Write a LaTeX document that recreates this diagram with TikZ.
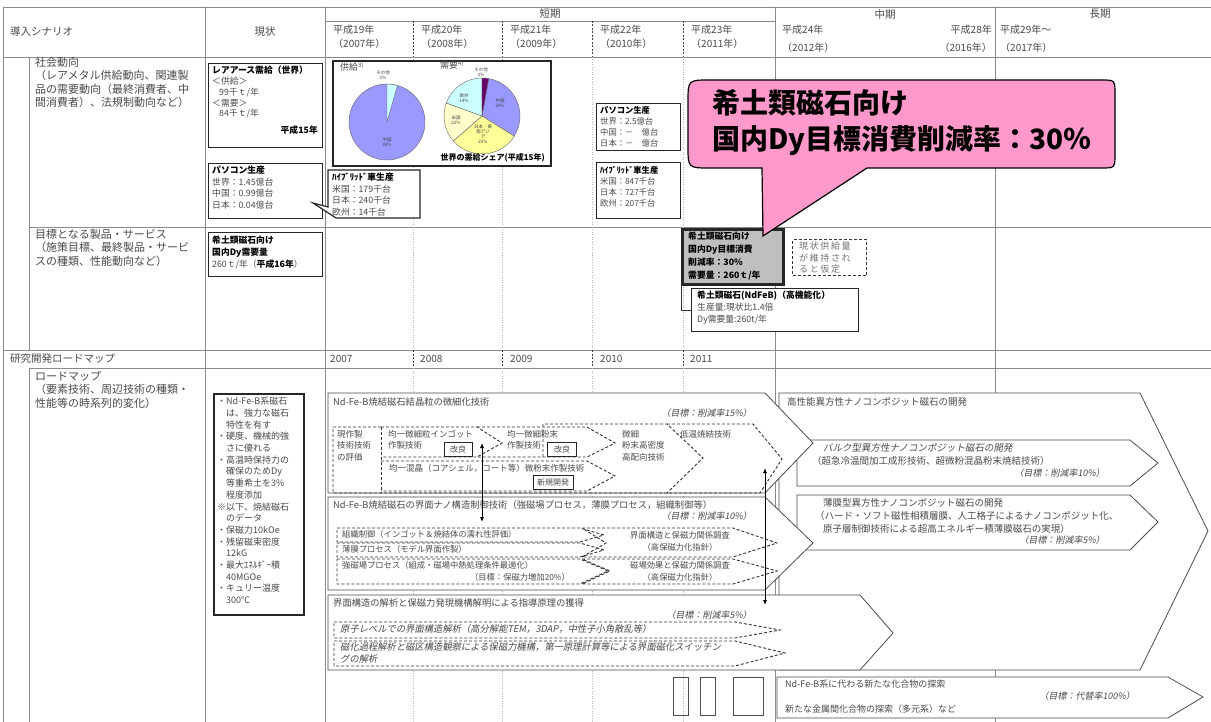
\documentclass[tikz,border=0pt]{standalone}
\usepackage{fontspec}
\setmainfont{Noto Sans CJK JP}[ItalicFont={Noto Sans CJK JP},ItalicFeatures={FakeSlant=0.18}]
\usetikzlibrary{arrows.meta}
\definecolor{gridc}{HTML}{8A8A8A}
\definecolor{txt}{HTML}{4A4A4A}
\definecolor{pinkc}{HTML}{FF99CC}
\definecolor{grayfill}{HTML}{BFBFBF}
\definecolor{pieblue}{HTML}{9999FF}
\definecolor{piecyan}{HTML}{CCFFFF}
\definecolor{pieyel}{HTML}{FFFF99}
\definecolor{pieyellt}{HTML}{FFFFCC}
\definecolor{piepur}{HTML}{660066}
\tikzset{
  fs/.style 2 args={font=\fontsize{#1}{#2}\selectfont},
  gridline/.style={draw=gridc,line width=0.8pt},
  dotline/.style={draw=gridc!60,line width=0.6pt,dash pattern=on 1pt off 1.5pt},
  hdash/.style={draw=black!75,line width=0.9pt,dash pattern=on 2pt off 1.5pt},
  lbl/.style={inner sep=0pt,anchor=north west,align=left,text=txt},
  rlbl/.style={inner sep=0pt,anchor=north east,align=right,text=txt},
  clbl/.style={inner sep=0pt,anchor=north,align=center,text=txt},
  frame/.style={draw=black!85,line width=1.4pt,fill=white,inner sep=0pt,anchor=north west},
  chev/.style={draw=black!70,line width=0.8pt,fill=white},
  dsh/.style={draw=black!80,line width=0.9pt,dash pattern=on 3pt off 2pt},
  tagbox/.style={draw=black!85,line width=1pt,inner sep=1.5pt,text=txt,fs={8}{9},minimum height=14pt},
  arr/.style={draw=black,line width=0.8pt,{Latex[length=5pt,width=4pt]}-{Latex[length=5pt,width=4pt]}},
  pielbl/.style={inner sep=0pt,align=center,text=black!75,fs={4.5}{5}},
  wedge/.style={draw=black!60,line width=0.4pt},
}
\begin{document}
\begin{tikzpicture}[x=1pt,y=-1pt]
\useasboundingbox (0,0) rectangle (1211,722);
\fill[white] (0,0) rectangle (1211,722);

% ---------- grid ----------
\draw[gridline] (3,7) -- (1211,7);
\draw[gridline] (3,7) -- (3,722);
\draw[gridline] (205,7) -- (205,722);
\draw[gridline] (325,7) -- (325,722);
\draw[gridline] (775,7) -- (775,722);
\draw[gridline] (995,7) -- (995,722);
\draw[gridline] (325,21) -- (775,21);
\draw[gridline] (3,57) -- (1211,57);
\draw[gridline] (29,57) -- (29,350);
\draw[gridline] (29,227) -- (1211,227);
\draw[gridline] (3,350) -- (1211,350);
\draw[gridline] (29,368) -- (1211,368);
\draw[gridline] (29,368) -- (29,722);
\foreach \xx in {413,502,592,683}{
  \draw[hdash] (\xx,21) -- (\xx,57);
  \draw[dotline] (\xx,57) -- (\xx,350);
  \draw[hdash] (\xx,350) -- (\xx,368);
  \draw[dotline] (\xx,368) -- (\xx,722);
}

% ---------- header ----------
\node[lbl,fs={10.5}{14}] (hScen) at (10,26) {導入シナリオ};
\node[clbl,fs={10.5}{14}] (hNow) at (265,26) {現状};
\node[clbl,fs={10.5}{14}] (hShort) at (550,9) {短期};
\node[lbl,fs={10}{14}] (h19) at (333,25) {平成19年\\（2007年）};
\node[lbl,fs={10}{14}] (h20) at (421,25) {平成20年\\（2008年）};
\node[lbl,fs={10}{14}] (h21) at (510,25) {平成21年\\（2009年）};
\node[lbl,fs={10}{14}] (h22) at (600,25) {平成22年\\（2010年）};
\node[lbl,fs={10}{14}] (h23) at (691,25) {平成23年\\（2011年）};
\node[clbl,fs={10.5}{14}] (hMid) at (885,9) {中期};
\node[lbl,fs={10}{14}] (h24) at (782,25) {平成24年};
\node[lbl,fs={10}{14}] (h24b) at (782,43) {（2012年）};
\node[rlbl,fs={10}{14}] (h28) at (992,25) {平成28年};
\node[rlbl,fs={10}{14}] (h28b) at (992,43) {（2016年）};
\node[clbl,fs={10.5}{14}] (hLong) at (1100,9) {長期};
\node[lbl,fs={10}{14}] (h29) at (1000,25) {平成29年～};
\node[lbl,fs={10}{14}] (h29b) at (1000,43) {（2017年）};

% ---------- left column ----------
\node[lbl,fs={11}{13.5}] (soc) at (35,57) {社会動向\\（レアメタル供給動向、関連製\\品の需要動向（最終消費者、中\\間消費者）、法規制動向など）};
\node[lbl,fs={11}{13.5}] (tgt) at (35,229) {目標となる製品・サービス\\（施策目標、最終製品・サービ\\スの種類、性能動向など）};
\node[lbl,fs={10.5}{13}] (rdm) at (10,353) {研究開発ロードマップ};
\node[lbl,fs={11}{13.5}] (rdm2) at (35,371) {ロードマップ\\（要素技術、周辺技術の種類・\\性能等の時系列的変化）};
\foreach \xx/\yy in {330/2007,420/2008,510/2009,600/2010,690/2011}{
  \node[lbl,fs={10}{12}] (yr\yy) at (\xx,355) {\yy};
}

% ---------- current-status boxes ----------
\node[frame,minimum width=114pt,minimum height=84pt] (bA) at (208,63) {};
\node[lbl,fs={8.8}{10.8}] (bAt) at (212,66) {{\bfseries\color{black}レアアース需給（世界）}\\＜供給＞\\\hspace{0.8em}99千ｔ/年\\＜需要＞\\\hspace{0.8em}84千ｔ/年};
\node[rlbl,fs={8.8}{10.8}] (bAy) at (318,126) {\bfseries\color{black}平成15年};

\node[frame,minimum width=114pt,minimum height=55pt] (bB) at (208,163) {};
\node[lbl,fs={8.8}{11.5}] (bBt) at (212,166) {{\bfseries\color{black}パソコン生産}\\世界：1.45億台\\中国：0.99億台\\日本：0.04億台};

\node[frame,minimum width=114pt,minimum height=44pt] (bC) at (208,232) {};
\node[lbl,fs={8.8}{12}] (bCt) at (212,236) {{\bfseries\color{black}希土類磁石向け}\\{\bfseries\color{black}国内Dy需要量}\\260ｔ/年（{\bfseries\color{black}平成16年}）};

% hybrid box with pointer
\draw[draw=black!85,line width=1.2pt,fill=white] (328,170) -- (420,170) -- (420,218) -- (336,218) -- (313,203) -- (328,207) -- cycle;
\node[lbl,fs={8.8}{11.5}] (hyb1) at (332,173) {{\bfseries\color{black}ﾊｲﾌﾞﾘｯﾄﾞ車生産}\\米国：179千台\\日本：240千台\\欧州：14千台};

% pie chart box
\node[frame,line width=1.8pt,minimum width=218pt,minimum height=105pt] (pieBox) at (332,60) {};
\node[lbl,fs={9}{10}] (supL) at (340,62) {供給\textsuperscript{3)}};
\node[lbl,fs={9}{10}] (demL) at (440,60) {需要\textsuperscript{4)}};
\begin{scope}[shift={(387,122)},yscale=-1]
  \filldraw[wedge,fill=pieblue] (0,0) circle[radius=38];
  \filldraw[wedge,fill=piecyan] (0,0) -- (74:38) arc[start angle=74,end angle=90,radius=38] -- cycle;
\end{scope}
\begin{scope}[shift={(482,116)},yscale=-1]
  \filldraw[wedge,fill=pieblue] (0,0) -- (-32:38) arc[start angle=-32,end angle=80,radius=38] -- cycle;
  \filldraw[wedge,fill=pieyel] (0,0) -- (-139:38) arc[start angle=-139,end angle=-32,radius=38] -- cycle;
  \filldraw[wedge,fill=pieyellt] (0,0) -- (160:38) arc[start angle=160,end angle=221,radius=38] -- cycle;
  \filldraw[wedge,fill=piecyan] (0,0) -- (90:38) arc[start angle=90,end angle=160,radius=38] -- cycle;
  \filldraw[wedge,fill=piepur] (0,0) -- (80:38) arc[start angle=80,end angle=90,radius=38] -- cycle;
\end{scope}
\node[pielbl] (p1a) at (387,142) {中国\\95\%};
\node[pielbl] (p1b) at (383,75) {その他\\5\%};
\node[pielbl] (p2a) at (500,103) {中国\\33\%};
\node[pielbl] (p2b) at (464,98) {欧州\\14\%};
\node[pielbl] (p2c) at (456,120) {米国\\22\%};
\node[pielbl] (p2d) at (483,134) {日本・東\\南アジ\\ア\\25\%};
\node[pielbl] (p2e) at (481,72) {その他\\3\%};
\node[inner sep=0pt,anchor=south east,fs={8}{9}] (pieCap) at (545,162) {\bfseries 世界の需給シェア(平成15年)};

% 2010 boxes
\node[frame,line width=1.2pt,minimum width=84pt,minimum height=47pt] (pc2) at (596,103) {};
\node[lbl,fs={8.3}{11}] (pc2t) at (600,106) {{\bfseries\color{black}パソコン生産}\\世界：2.5億台\\中国：－　億台\\日本：－　億台};
\node[frame,line width=1.2pt,minimum width=84pt,minimum height=56pt] (hy2) at (596,162) {};
\node[lbl,fs={8.3}{11}] (hy2t) at (600,166) {{\bfseries\color{black}ﾊｲﾌﾞﾘｯﾄﾞ車生産}\\米国：847千台\\日本：727千台\\欧州：207千台};

% ---------- target row ----------
\node[frame,line width=3pt,fill=grayfill,minimum width=101pt,minimum height=55pt] (gbox) at (681,228) {};
\node[lbl,fs={8.8}{13}] (gboxT) at (688,232) {\bfseries\color{black}希土類磁石向け\\\bfseries\color{black}国内Dy目標消費\\\bfseries\color{black}削減率：30\%\\\bfseries\color{black}需要量：260ｔ/年};
\node[draw=black!80,line width=1.3pt,dash pattern=on 3pt off 2pt,anchor=north west,minimum width=74pt,minimum height=36pt,inner sep=0pt] (asm) at (792,239) {};
\node[lbl,text=black!55,font={\fontsize{9}{11.5}\selectfont\addfontfeatures{LetterSpace=18}}] (asmT) at (799,242) {現状供給量\\が維持され\\ると仮定};
\node[frame,line width=1.2pt,minimum width=167pt,minimum height=43pt] (nbox) at (691,288) {};
\node[lbl,fs={8.8}{12}] (nboxT) at (697,291) {{\bfseries\color{black}希土類磁石(NdFeB)（高機能化）}\\生産量:現状比1.4倍\\Dy需要量:260t/年};
\draw[draw=black!80,line width=0.8pt] (gbox.south west) |- (nbox.west);

% pink balloon
\draw[fill=pinkc,draw=black,line width=1.2pt]
  (710,80) -- (1101,80) .. controls (1115,80) .. (1115,94) -- (1115,154)
  .. controls (1115,168) .. (1101,168) -- (867,168) -- (763,236) -- (762,168)
  -- (710,168) .. controls (688,168) .. (688,146) -- (688,102)
  .. controls (688,80) .. (710,80) -- cycle;
\node[inner sep=0pt,anchor=north west,align=left,font={\fontsize{28}{36}\selectfont\bfseries}] (pinkT) at (712,89) {希土類磁石向け\\国内Dy目標消費削減率：30％};

% ---------- roadmap: current ----------
\node[frame,line width=1.5pt,minimum width=90pt,minimum height=221pt] (nowR) at (213,393) {};
\node[lbl,fs={9}{11.7}] (nowRT) at (217,397) {・Nd-Fe-B系磁石\\　は、強力な磁石\\　特性を有す\\・硬度、機械的強\\　さに優れる\\・高温時保持力の\\　確保のためDy\\　等重希土を3\%\\　程度添加\\※以下、焼結磁石\\　のデータ\\・保磁力10kOe\\・残留磁束密度\\　12kG\\・最大ｴﾈﾙｷﾞｰ積\\　40MGOe\\・キュリー温度\\　300℃};

% ---------- right side chevrons ----------
\draw[chev] (779,393) -- (1140,393) -- (1208,531) -- (1140,670) -- (779,670) -- cycle;
\node[lbl,fs={9.5}{12}] (hp) at (787,397) {高性能異方性ナノコンポジット磁石の開発};
\draw[chev] (797,440) -- (1130,440) -- (1158,463) -- (1130,486) -- (797,486) -- cycle;
\node[lbl,fs={9.5}{13}] (bulk) at (823,443) {\itshape バルク型異方性ナノコンポジット磁石の開発};
\node[lbl,fs={9.5}{13}] (bulk2) at (812,456) {（超急冷温間加工成形技術、超微粉混晶粉末焼結技術）};
\node[rlbl,fs={9}{12}] (bulk3) at (1105,469) {\itshape （目標：削減率10\%）};
\draw[chev] (797,495) -- (1130,495) -- (1158,522) -- (1130,550) -- (797,550) -- cycle;
\node[lbl,fs={9.5}{13}] (thin) at (823,498) {薄膜型異方性ナノコンポジット磁石の開発};
\node[lbl,fs={9.5}{13}] (thin2) at (815,511) {（ハード・ソフト磁性相積層膜、人工格子によるナノコンポジット化、};
\node[lbl,fs={9.5}{13}] (thin3) at (823,524) {原子層制御技術による超高エネルギー積薄膜磁石の実現）};
\node[rlbl,fs={9}{12}] (thin4) at (1105,536) {\itshape （目標：削減率5\%）};
\draw[chev] (777,677) -- (1168,677) -- (1203,697) -- (1168,718) -- (777,718) -- cycle;
\node[lbl,fs={9}{12}] (alt1) at (785,680) {Nd-Fe-B系に代わる新たな化合物の探索};
\node[rlbl,fs={9}{12}] (alt2) at (1135,692) {\itshape （目標：代替率100\%）};
\node[lbl,fs={9}{12}] (alt3) at (785,705) {新たな金属間化合物の探索（多元系）など};

% ---------- chevron 1 ----------
\draw[chev] (328,393) -- (765,393) -- (813,443) -- (765,493) -- (328,493) -- cycle;
\node[lbl,fs={9.3}{12}] (c1t) at (333,397) {Nd-Fe-B焼結磁石結晶粒の微細化技術};
\node[rlbl,fs={9}{12}] (c1g) at (752,409) {\itshape （目標：削減率15\%）};
\draw[dsh] (381,427) -- (333,427) -- (333,493) -- (760,493) -- (782,459) -- (753,424) -- (667,424);
\draw[dsh] (381,427) -- (381,493);
\draw[dsh] (381,427) -- (477,427) -- (502,443) -- (477,457) -- (381,457);
\draw[dsh] (477,427) -- (587,427) -- (615,443) -- (587,457) -- (477,457);
\draw[dsh] (381,461) -- (587,461) -- (615,476) -- (587,491) -- (381,491);
\draw[dsh] (543,457) -- (543,424) -- (667,424) -- (703,458) -- (667,493);
\node[lbl,fs={8.5}{11.5}] (c1a) at (337,430) {現作製\\技術技術\\の評価};
\node[lbl,fs={8.5}{11.5}] (c1b) at (388,430) {均一微細粒インゴット\\作製技術};
\node[tagbox,minimum width=28pt] (kai1) at (458,449) {改良};
\node[lbl,fs={8.5}{11.5}] (c1c) at (507,430) {均一微細粉末\\作製技術};
\node[tagbox,minimum width=29pt] (kai2) at (562,449) {改良};
\node[lbl,fs={8.5}{11.5}] (c1d) at (389,464) {均一混晶（コアシェル，コート等）微粉末作製技術};
\node[tagbox,minimum width=40pt] (shin) at (553,482) {新規開発};
\node[lbl,fs={8.5}{11.5}] (c1e) at (622,430) {微細\\粉末高密度\\高配向技術};
\node[lbl,fs={8.5}{11.5}] (c1f) at (680,430) {低温焼結技術};

% ---------- chevron 2 ----------
\draw[chev] (328,497) -- (765,497) -- (813,543) -- (765,590) -- (328,590) -- cycle;
\node[lbl,fs={9.3}{12}] (c2t) at (333,500) {Nd-Fe-B焼結磁石の界面ナノ構造制御技術（強磁場プロセス，薄膜プロセス，組織制御等）};
\node[rlbl,fs={9}{12}] (c2g) at (752,512) {\itshape （目標：削減率10\%）};
\draw[dsh] (337,528) -- (580,528) -- (604,535) -- (580,542) -- (337,542) -- cycle;
\draw[dsh] (337,543) -- (580,543) -- (604,550) -- (580,557) -- (337,557) -- cycle;
\draw[dsh] (337,559) -- (580,559) -- (608,571) -- (580,584) -- (337,584) -- cycle;
\draw[dsh] (582,528) -- (733,528) -- (777,543) -- (733,557) -- (582,557) -- (606,543) -- cycle;
\draw[dsh] (582,559) -- (733,559) -- (777,571) -- (733,584) -- (582,584) -- (610,571) -- cycle;
\node[lbl,fs={8.3}{10}] (c2a) at (342,530) {組織制御（インゴット＆焼結体の濡れ性評価）};
\node[lbl,fs={8.3}{10}] (c2b) at (342,545) {薄膜プロセス（モデル界面作製）};
\node[lbl,fs={8.3}{10}] (c2c) at (342,561) {強磁場プロセス（組成・磁場中熱処理条件最適化）};
\node[clbl,fs={8.3}{10}] (c2d) at (520,573) {（目標：保磁力増加20\%）};
\node[clbl,fs={8.3}{12}] (c2e) at (680,531) {界面構造と保磁力関係調査\\（高保磁力化指針）};
\node[clbl,fs={8.3}{12}] (c2f) at (680,561) {磁場効果と保磁力関係調査\\（高保磁力化指針）};

% ---------- chevron 3 ----------
\draw[chev] (328,595) -- (860,595) -- (893,633) -- (860,670) -- (328,670) -- cycle;
\node[lbl,fs={9.3}{12}] (c3t) at (333,598) {界面構造の解析と保磁力発現機構解明による指導原理の獲得};
\node[rlbl,fs={9}{12}] (c3g) at (752,611) {\itshape （目標：削減率5\%）};
\draw[dsh] (334,622) -- (735,622) -- (780,630) -- (735,638) -- (334,638) -- cycle;
\draw[dsh] (334,641) -- (735,641) -- (785,653) -- (735,666) -- (334,666) -- cycle;
\node[lbl,fs={9.3}{12}] (c3a) at (340,624) {\itshape 原子レベルでの界面構造解析（高分解能TEM，3DAP，中性子小角散乱等）};
\node[lbl,fs={9.3}{12}] (c3b) at (340,642) {\itshape 磁化過程解析と磁区構造観察による保磁力機構，第一原理計算等による界面磁化スイッチン\\\itshape グの解析};

% small rectangles
\node[draw=black!70,line width=0.9pt,anchor=north west,minimum width=15pt,minimum height=38pt,inner sep=0pt] (sq1) at (673,677) {};
\node[draw=black!70,line width=0.9pt,anchor=north west,minimum width=15pt,minimum height=38pt,inner sep=0pt] (sq2) at (700,677) {};
\node[draw=black!70,line width=0.9pt,anchor=north west,minimum width=30pt,minimum height=38pt,inner sep=0pt] (sq3) at (733,677) {};

% arrows
\coordinate (a1top) at (482,443);
\coordinate (a1bot) at (482,522);
\coordinate (a2top) at (765,468);
\coordinate (a2bot) at (765,605);
\draw[arr] (a1top) -- (a1bot);
\draw[arr] (a2top) -- (a2bot);
\end{tikzpicture}
\end{document}
